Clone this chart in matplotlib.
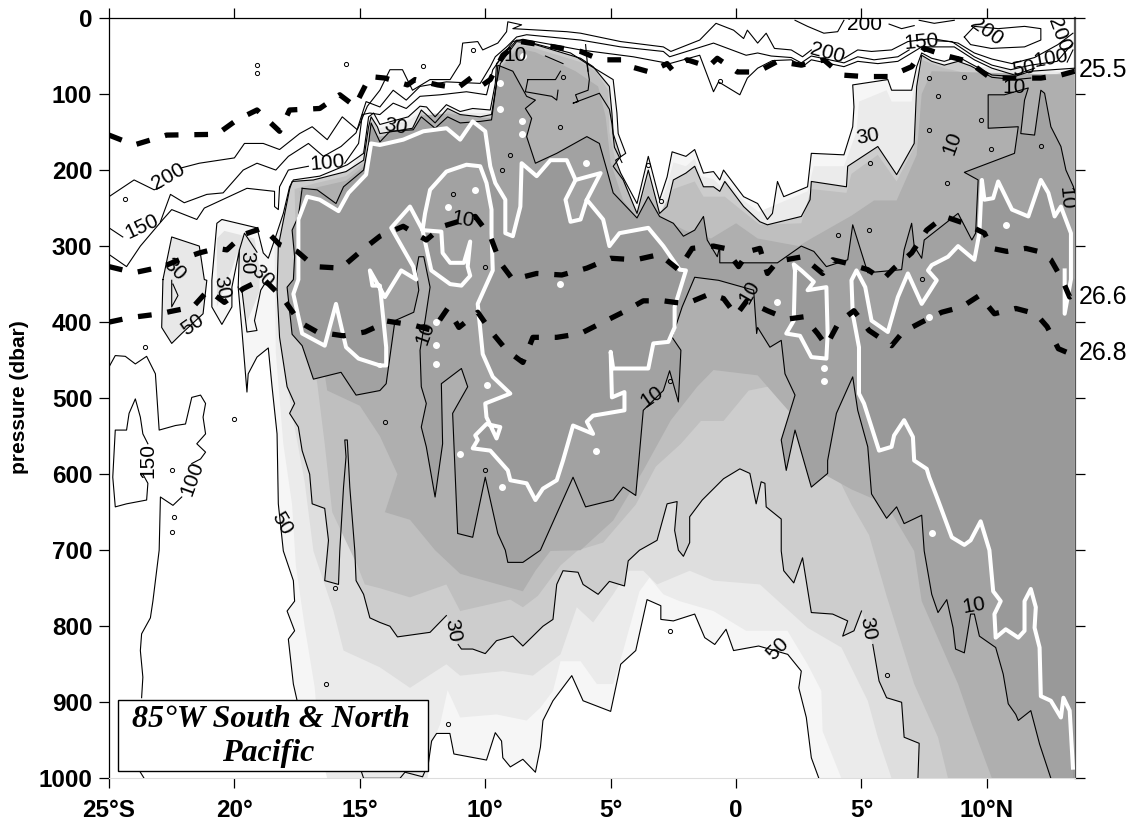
import numpy as np
import matplotlib
matplotlib.use("Agg")
from matplotlib import pyplot as plt
from matplotlib.patches import Rectangle

NAN = (np.nan, np.nan)

line_200 = [(-25, 235), (-24, 213), (-23.2, 226), (-22.9, 222), NAN, (-22.1, 197), (-21.4, 191), (-20, 184), (-19.6, 165), (-18.85, 165),
            (-18.2, 173), (-17.4, 152), (-16.9, 143), (-16.3, 160), (-15.7, 130), (-15.1, 147), (-14.7, 116), (-14.2, 95),
            (-13.8, 68), (-13.3, 68), (-12.9, 95), (-12.2, 81), (-11.4, 81), (-11, 60), (-10.9, 33), (-10.3, 31), (-10.1, 42),
            (-9.5, 33), (-9.15, 18), (-9.1, 5), (-8.55, 9), (-8.9, 14), (-6.75, 18), (-6.2, 20), (-4.6, 31), (-2.9, 38),
            (-2.6, 44), (-1.45, 29), (-0.8, 7), (-0.1, 16), (0.3, 27), (0.45, 16), (0.86, 33), (1.2, 20), (1.53, 40), (2.2, 42),
            (2.65, 51), (3, 42), NAN, (4.3, 53), (4.85, 42), (5.4, 44), (6.2, 42), (6.85, 31), (7.8, 27), (8.85, 33), (9.5, 46),
            (10.2, 54), (11, 60), (11.9, 52), (12.83, 35), (13.43, 20)]
line_150 = [(-25, 276), (-24.45, 288), NAN, (-22.95, 268), (-22.55, 232), (-22, 243), (-21.1, 232), (-20.45, 230), (-19.65, 200), (-19.1, 191),
            (-18.35, 200), (-17.85, 182), (-17.05, 165), (-16.45, 182), (-15.75, 169), (-15.15, 151), (-14.75, 110), (-14.2, 117),
            (-13.67, 95), (-13.15, 108), (-12.6, 90), (-11.55, 84), (-10.2, 86), (-9.8, 64), (-9.6, 51), (-9.15, 38), (-8.75, 25),
            (-8.35, 22), (-6.2, 29), (-4.6, 38), (-2.9, 44), (-2.65, 51), (-0.9, 33), (0.4, 49), (0.86, 46), (1.4, 50), (2.2, 52),
            (2.6, 59), (3, 50), (4.3, 59), (4.85, 51), (5.5, 55), (6.45, 51), (6.9, 42), NAN, (8.0, 30), (8.6, 31), (9.5, 51), (10.2, 62),
            (10.95, 68), (11.75, 62), (12.8, 57), (13.43, 33)]
line_100 = [(-25, 311), (-24.3, 327), (-23.75, 300), (-22.85, 265), (-22.5, 252), (-21.5, 265), (-21.2, 250), (-19.5, 224), (-18.4, 228),
            (-18.4, 248), (-18.25, 252), (-18.2, 222), (-17.85, 200), (-17.05, 195), NAN, (-15.6, 191), (-15.05, 165), (-14.9, 127),
            (-14.6, 125), (-14.2, 127), (-13.67, 112), (-13.15, 119), (-12.6, 103), (-11.8, 101), (-10.75, 97), (-9.95, 101), (-9.7, 68),
            (-8.9, 31), (-8.5, 28), (-6.2, 42), (-4.1, 51), (-2.65, 60), (-1.45, 49), (-0.9, 97), (-0.7, 84), (0.15, 101), (0.45, 79),
            (0.86, 66), (1.45, 56), (2.2, 55), (2.65, 64), (3, 55), (4.3, 64), (4.85, 57), (5.65, 60), (6.45, 57), (7.4, 38), (8.7, 38),
            (9.5, 55), (10.2, 66), (11.1, 75), (11.9, 66), NAN, (13.2, 58), (13.43, 42)]
low_100 = [(-25, 459), (-24.75, 444), (-24.35, 445), (-23.95, 455), (-23.5, 445), (-23.15, 468), (-23, 542), (-22.35, 536), (-21.95, 534),
           (-21.7, 499), (-21.35, 496), (-21.15, 507), (-21.25, 525), (-21.15, 547), (-21.5, 560), (-21.15, 571), (-21.35, 580), (-21.7, 586),
           NAN, (-22.1, 630), (-22.45, 641), (-22.95, 630), (-23, 700), (-23.25, 767), (-23.35, 789), (-23.7, 810), (-23.75, 832),
           (-23.65, 867), (-23.7, 894), NAN, (-23.75, 992), (-23.6, 1000)]
low_150 = [(-23.65, 600), (-23.45, 612), (-23.5, 634), (-24.3, 639), (-24.75, 643), (-24.85, 604), (-24.75, 542), (-24.3, 542), (-24.2, 520),
           (-23.95, 501), (-23.75, 525), (-23.65, 547), (-23.45, 560)]
top_loop_a = [(9.1, 25), (9.5, 11), (10.45, 14), (11.5, 11), (12.15, 14), (12.15, 29), (11.5, 38), (10.17, 40), (9.35, 35), (9.1, 25)]
top_loop_b = [(2.35, 3), (2.85, 11), (3.5, 20), (4.05, 18), (4.3, 3)]
top_loop_c = [(6.1, 8), (6.6, 14), (7.1, 10), NAN, (7.3, 3), (7.9, 7), (8.7, 3)]

top_50 = [(-19.85, 354), (-19.8, 305), (-20.1, 354), (-20.1, 380), (-20.5, 403), (-20.9, 380), (-20.9, 345), (-20.7, 270), (-20.5, 265),
          (-19.1, 276), (-18.85, 309), (-18.65, 316), (-18.4, 292), (-18.05, 257), (-17.8, 222), (-17.65, 213), (-16.6, 208), (-15.5, 193),
          (-14.85, 178), (-14.65, 130), (-14.45, 125), (-14.2, 140), (-13.07, 130), (-12.6, 116), (-12.34, 117), (-12, 130), (-11.55, 114),
          (-11, 123), (-10.5, 119), (-9.8, 121), (-9.6, 86), (-9.55, 60), (-8.75, 29), (-8.35, 31), (-6.6, 46), (-5.95, 60), (-4.9, 81),
          (-4.75, 125), (-4.7, 152), (-4.4, 178), (-4.8, 187), (-4.6, 204), (-3.95, 244), (-3.5, 182), (-3.05, 239), (-2.75, 209),
          (-2.55, 176), (-2, 182), (-1.65, 173), (-1.3, 204), (-0.9, 202), (-0.65, 213), (-0.5, 200), (0.3, 235), (0.86, 244), (1.25, 265),
          (1.45, 257), (1.65, 215), (1.9, 235), (2.85, 222), (3, 178), (4.3, 180), (4.65, 143), (4.7, 117), (4.65, 88), (6.05, 81),
          (6.2, 95), (7, 95), (7.2, 64), (7.4, 46), (7.8, 53), (8.3, 57), (8.85, 51), (9.35, 60), (10.2, 75), (11.1, 77), (11.75, 70),
          (13.5, 66)]
bottom_50 = [(-19.85, 354), (-19.7, 411), (-19.5, 492), (-19.45, 468), (-19.1, 446), (-18.65, 434), (-18.5, 485), (-18.3, 547), (-18.25, 639),
             (-18.05, 701), (-17.65, 740), (-17.6, 767), (-17.9, 780), (-17.6, 806), (-17.85, 817), (-17.65, 876), (-17.5, 898), (-15, 985),
             (-14.85, 1000), (-13.4, 1000), (-13.2, 992), (-12.5, 998), (-12.27, 981), (-12.14, 951), (-11.94, 941), (-11.41, 941),
             (-11.25, 968), (-9.95, 976), (-9.6, 940), (-9.35, 951), (-9.3, 973), (-9, 985), (-8.5, 975), (-8, 992), (-7.8, 959), (-7.7, 924),
             (-7.3, 898), (-6.55, 865), (-6.1, 898), (-5, 912), (-4.6, 850), (-4, 832), (-3.55, 765), (-3, 773), (-3, 791), (-2.5, 793),
             (-1.65, 784), (-1.25, 815), (-0.85, 824), (-0.4, 804), (-0.1, 832), (0.9, 826), (2.06, 837), (2.6, 859), (2.5, 881), (2.8, 920),
             (3, 973), (3.3, 1000), (13.5, 1000)]
lobe_50 = [(-22.85, 344), (-22.9, 407), (-22.5, 428), (-22.1, 415), (-21.25, 389), (-21.1, 345), (-21.2, 344), (-21.4, 300), (-22.5, 288), (-22.85, 344)]
lobe_mid = [(-20.7, 290), (-20.4, 280), (-19.2, 290), (-19, 330), (-19, 360), (-19.5, 400), (-19.7, 360), (-19.9, 310), (-20.1, 330), (-20.7, 380)]

top_42 = [(-18.35, 440), (-18.4, 300), (-17.7, 220), (-16.6, 212), (-15.4, 200), (-14.8, 170), (-14.6, 135), (-14.2, 145), (-13.07, 135), (-12.6, 125),
          (-9.8, 125), (-9.55, 90), (-9.5, 60), (-8.7, 34), (-8.3, 35), (-6.6, 52), (-5.95, 66), (-5.1, 85), (-5, 125), (-4.95, 150), (-4.65, 178),
          (-5, 187), (-4.75, 210), (-3.95, 252), (-3.5, 200), (-3.05, 248), (-2.7, 215), (-2.5, 190), (-2, 195), (-1.65, 185), (-1.4, 208), (-0.9, 212),
          (-0.6, 222), (-0.5, 210), (0.3, 240), (0.9, 255), (2.85, 228), (3.1, 195), (4.3, 195), (4.8, 150), (4.9, 110), (6, 95), (6.2, 110), (7, 110),
          (7.2, 70), (7.5, 60), (13.5, 72)]
bottom_42 = [(-18.35, 440), (-18.05, 560), (-17.7, 640), (-17.55, 720), (-17.2, 800), (-16.8, 880), (-16.6, 960), (-16.3, 1000), (-12.3, 1000), (-12.2, 960),
             (-11.8, 929), (-11.5, 884), (-11, 920), (-9.55, 916), (-8.35, 924), (-7.8, 907), (-7.3, 885), (-7, 846), (-6.2, 846), (-5.55, 876), (-4.9, 876),
             (-4.5, 832), (-3.85, 754), (-3.45, 736), (-2.9, 758), (-2.25, 767), (-0.9, 780), (0.4, 806), (2.05, 806), (2.85, 850), (3.4, 885), (3.45, 938),
             (4.2, 1000), (13.5, 1000)]
bottom_36 = [(-18.1, 440), (-17.7, 520), (-17.2, 610), (-16.85, 701), (-16.05, 780), (-15.65, 832), (-14.2, 854), (-13, 881), (-11.55, 850), (-11, 865),
             (-9.3, 859), (-8.1, 865), (-7, 837), (-6.35, 775), (-5.7, 795), (-4.9, 758), (-4.3, 727), (-3.7, 727), (-3.15, 745), (-1.85, 727), (-0.9, 740),
             (0.95, 745), (2.85, 802), (4.2, 828), (5.25, 898), (5.65, 946), (6.2, 1000), (13.5, 1000)]

top_30 = [(-18.3, 358), (-18.25, 300), (-17.8, 225), (-17.7, 215), (-16.85, 213), (-15.55, 202), (-14.85, 187), (-14.65, 143), (-14.55, 130), (-14.3, 143),
          (-14.2, 152), (-12.9, 145), (-12.55, 121), (-12.35, 127), (-12, 138), (-11.5, 119), (-11, 127), (-10.2, 130), (-9.75, 127), (-9.55, 86), (-9.4, 60),
          (-8.75, 31), (-8.2, 33), (-6.2, 53), (-5.7, 64), (-5.05, 90), (-4.95, 125), (-4.9, 152), (-4.6, 182), (-4.9, 195), (-4.5, 213), (-3.95, 257),
          (-3.5, 200), (-3.05, 257), (-2.75, 248), (-2.5, 213), (-2, 204), (-1.65, 195), (-1.3, 222), (-0.9, 222), (-0.65, 228), (-0.45, 215), (0.3, 248),
          (0.95, 268), (1.25, 272), (2.6, 261), (2.95, 239), (3, 215), (4.4, 222), (4.45, 195), (5.65, 169), (6.4, 206), (7.1, 165), (7.2, 90), (7.4, 49),
          (7.8, 57), (8.3, 62), (8.85, 57), (9.35, 63), (10.2, 78), (11.1, 81), (11.75, 79), (13.5, 70)]
bottom_30 = [(-18.3, 358), (-18.2, 420), (-17.9, 485), (-17.6, 507), (-17.8, 520), (-17.45, 538), (-17.3, 569), (-17, 600), (-16.9, 639), (-16.4, 645),
             (-16.25, 687), (-16.4, 740), (-15.85, 745), (-15.8, 701), (-15.65, 617), (-15.55, 577), (-15.6, 555), (-15.5, 555), (-15.4, 617), (-15.2, 701),
             (-15.15, 740), (-14.85, 758), (-14.6, 789), (-14.2, 795), (-13.8, 800), (-13.5, 814), (-12.2, 808), (-11.55, 786), NAN, (-11.08, 824), (-10.95, 830),
             (-10.5, 830), (-10, 836), (-9.55, 819), (-8.9, 813), (-8.5, 826), (-7.7, 800), (-7.3, 791), (-7.15, 745), (-6.9, 727), (-6.3, 729), (-6.1, 745),
             (-5.5, 758), (-5.05, 741), (-4.45, 747), (-4.3, 714), (-3.85, 700), (-3.15, 687), (-2.75, 639), (-2.35, 636), (-2.45, 674), (-2.3, 700), (-2.1, 708),
             (-1.85, 690), (-1.85, 656), (-1.35, 634), (-0.5, 606), (0.15, 593), (0.55, 599), (0.8, 639), (1, 610), (1.15, 612), (1.2, 643), (1.8, 659), (1.8, 701),
             (1.9, 727), (2.3, 743), (2.65, 710), (3, 782), (3.85, 784), (4.45, 793), (4.25, 813), (4.7, 806), (5, 780), NAN, (5.45, 824), (5.7, 872), (6, 894),
             (6.6, 900), (6.7, 946), (7.3, 954), (7.25, 1000), (13.5, 1000)]

top_22 = [(-17.5, 360), (-17.6, 225), (-16.85, 218), (-15.55, 208), (-14.85, 190), (-14.6, 150), (-14.2, 156), (-12.9, 148), (-12.55, 125), (-12, 141), (-11.5, 123),
          (-10.2, 133), (-9.75, 130), (-9.5, 86), (-9.35, 62), (-8.7, 36), (-8.2, 38), (-6.2, 58), (-5.6, 70), (-5.1, 95), (-5.05, 150), (-4.8, 190), (-4.4, 218),
          (-3.95, 259), (-3.5, 210), (-3.05, 258), (-2.5, 225), (-1.65, 215), (-1.3, 235), (-0.45, 235), (0.3, 255), (0.95, 272), (2.6, 270), (3, 225), (4.4, 230),
          (4.6, 205), (5.65, 180), (6.4, 215), (7.1, 170), (7.25, 90), (7.4, 55), (8.3, 66), (10.2, 80), (13.5, 72)]
bottom_22 = [(-17.5, 360), (-16.7, 480), (-16.4, 560), (-16.1, 650), (-15.1, 720), (-14.8, 745), (-14.2, 750), (-13, 762), (-11.55, 745), (-11, 780), (-9, 765),
             (-8.5, 775), (-7.9, 760), (-7, 720), (-6.3, 700), (-5.3, 690), (-4, 640), (-3.2, 590), (-2.2, 560), (-1.4, 530), (-0.5, 530), (0.5, 490), (2, 480),
             (3, 560), (4, 600), (4.6, 640), (5.3, 680), (6, 760), (7.1, 876), (8.05, 946), (8.45, 1000), (13.5, 1000)]
top_15 = [(-16.9, 360), (-17.4, 228), (-15.55, 214), (-14.85, 195), (-14.6, 158), (-12.9, 150), (-12.55, 128), (-11.5, 126), (-9.75, 132), (-9.5, 70), (-8.7, 40),
          (-8, 45), (-6.4, 70), (-5.5, 90), (-5.2, 130), (-5, 190), (-4.5, 240), (-3.95, 262), (-3.5, 240), (-3.05, 262), (-2, 280), (-1, 290), (0, 270), (0.86, 290),
          (2.5, 300), (3, 290), (4.6, 260), (5.5, 240), (6.4, 240), (7.2, 180), (7.4, 100), (7.8, 70), (13.5, 75)]
bottom_15 = [(-16.9, 360), (-16.3, 490), (-15, 510), (-14.2, 550), (-13.5, 600), (-14, 650), (-13, 660), (-12, 700), (-11, 731), (-8.5, 754), (-8, 727), (-7.4, 701),
             (-6.2, 700), (-4.9, 661), (-3.7, 595), (-2.6, 529), (-1.55, 485), (-0.9, 463), (0.86, 470), (1.65, 500), (2.45, 530), (3.5, 600), (4.6, 620), (6, 640),
             (7.1, 701), (7.4, 767), (8.85, 876), (9.4, 929), (10.2, 1000), (13.5, 1000)]

outline_10 = [(-17.3, 224), (-16.7, 226), (-15.95, 244), (-15.65, 222), (-14.85, 200), (-14.65, 165), (-14.55, 138), (-14.2, 163), (-13.8, 149), (-12.87, 147),
              (-12.55, 130), (-12, 145), (-11.5, 130), (-11, 138), (-10.2, 136), (-9.75, 134), (-9.55, 86), (-9.5, 62), (-8.9, 70), (-8.35, 103), (-8, 108), (-8.4, 119),
              (-8.15, 132), (-8.35, 156), (-8, 191), (-7.15, 178), (-5.95, 156), (-5.45, 165), (-5.15, 200), (-4.9, 230), (-3.95, 263), (-3.5, 235), (-3.05, 261),
              (-2.5, 270), (-2.1, 287), (-1.65, 279), (-1.3, 261), (-1.15, 292), (-0.75, 314), (-0.65, 300), (-0.65, 322), (1.2, 322), (1.65, 322), (2.6, 300),
              (3.1, 307), (3.6, 327), (4.45, 318), (4.65, 272), (5.25, 335), (6.6, 331), (6.7, 305), (7, 270), (7.1, 300), (7.4, 316), (7.5, 292), (8.85, 257),
              (9.4, 292), (9.55, 283), (9.65, 213), (9.1, 203), (11.1, 178), (11.25, 143), (10.05, 145), (10.05, 101), (10.7, 101), (11.65, 92), (11.5, 108),
              (11.35, 152), (11.9, 154), (12.15, 95), (12.3, 99), (12.55, 143), (12.95, 169), (13.15, 200), (13.45, 222), (13.5, 230), (13.5, 1000), (12.55, 1000),
              (12.1, 955), (11.75, 911), (11.25, 924), (11.15, 916), (10.85, 902), (10.65, 863), (10.35, 828), (9.7, 813), (9.5, 784), (9.35, 784), (9.1, 835),
              (8.75, 830), (8.65, 802), (8.4, 765), (8.05, 782), (7.8, 758), (7.5, 701), (7.4, 654), (6.7, 665), (6.4, 643), (6, 658), (5.4, 626), (5.25, 564),
              (4.85, 516), (4.65, 472), (4, 520), (3.65, 582), (3.65, 599), (3, 617), (2.35, 542), (2, 595), (1.8, 555), (2.35, 496), (1.95, 468), (1.8, 424),
              (1.35, 433), (0.86, 407), (0.82, 415), (0.7, 358), (-0.7, 345), (-1.65, 341), (-2.15, 380), (-2.55, 420), (-2.2, 437), (-2.3, 505), (-2.65, 464),
              (-2.9, 490), (-3.7, 516), (-4, 628), (-4.5, 617), (-4.9, 634), (-6, 643), (-6.5, 604), (-7.15, 652), (-7.8, 700), (-8.5, 716), (-9.1, 716), (-9.2, 700),
              (-9.5, 678), (-10, 604), (-10.5, 683), (-11.1, 678), (-11.3, 520), (-10.7, 485), (-10.95, 461), (-11.75, 481), (-11.7, 560), (-12, 630), (-12.35, 564),
              (-12.55, 538), (-12.35, 507), (-12.55, 485), (-12.6, 437), (-12.4, 398), (-12.2, 354), (-12.45, 314), (-12.65, 314), (-12.75, 332), (-12.65, 358),
              (-12.85, 387), (-13.6, 398), (-13.95, 481), (-14.2, 490), (-15.15, 496), (-15.75, 466), (-16.85, 475), (-17.3, 431), (-17.7, 416), (-17.9, 354),
              (-17.65, 344), (-17.6, 314), (-17.7, 279), (-17.45, 261), (-17.3, 224)]

white_main = [(-14.2, 457), (-15.05, 448), (-15.55, 433), (-15.95, 376), (-16.4, 431), (-17.3, 415), (-17.65, 363), (-17.45, 344), (-17.45, 265), (-17.1, 235),
              (-16.6, 239), (-15.85, 254), (-15.45, 230), (-14.75, 206), (-14.55, 165), (-14.2, 167), (-13.27, 160), (-12.47, 149), (-11.54, 145), (-11, 160), (-10.5, 136),
              (-10, 149), (-9.8, 195), (-9.6, 217), (-9.2, 239), (-9.2, 283), (-8.9, 287), (-8.6, 248), (-8.55, 191), (-7.95, 208), (-7.4, 187), (-6.75, 187), (-6.4, 213),
              (-6.8, 239), (-6.6, 268), (-6.2, 265), (-5.95, 239), (-5.3, 265), (-5.05, 300), (-4.65, 283), (-3.5, 276), (-2.9, 300), (-2.25, 331), (-2, 332), (-2.45, 380),
              (-2.45, 407), (-2.7, 426), (-3.3, 428), (-3.5, 461), (-4.9, 461), (-5, 439), (-4.95, 499), (-4.45, 492), (-4.45, 516), (-5.7, 523), (-5.95, 531), (-5.7, 547),
              (-6.5, 536), (-6.9, 582), (-7.15, 608), (-7.7, 619), (-8, 634), (-8.35, 612), (-9, 608), (-9.1, 595), (-9.8, 569), (-10.5, 566), (-10.3, 555), (-10.4, 549),
              (-9.95, 534), (-9.4, 538), (-9.55, 553), (-9.95, 525), (-10, 507), (-9, 494), (-9.7, 472), (-10.1, 442), (-10.3, 376), (-9.7, 332), (-9.75, 283), (-9.75, 252),
              (-9.95, 217), (-10.2, 195), (-10.75, 193), (-11.55, 202), (-12.2, 226), (-12.4, 257), (-12.5, 279), (-11.75, 281), (-11.7, 309), (-11.4, 322), (-10.85, 322),
              (-10.6, 294), (-10.7, 327), (-10.6, 339), (-10.95, 352), (-11.4, 350), (-12.15, 332), (-12.5, 279), (-13, 248), (-13.75, 276), (-12.87, 327), (-12.75, 344),
              (-13.35, 332), (-14, 367), (-14.6, 332), (-14.5, 352), (-14.2, 352), (-13.95, 433), (-13.95, 457), (-14.2, 457)]
white_tri = [(-6.4, 213), (-5.4, 204), (-5.95, 239)]
white_right = [(13.43, 986), (13.3, 911), (13.05, 894), (12.95, 920), (12.55, 898), (12.15, 892), (12.1, 828), (11.9, 802), (11.95, 775), (11.75, 751), (11.5, 767),
               (11.5, 806), (11.25, 815), (10.75, 804), (10.35, 815), (10.3, 784), (10.55, 767), (10.25, 754), (10.1, 700), (9.75, 662), (9.35, 687), (9.1, 693), (8.6, 683),
               (8.05, 634), (7.7, 604), (7.6, 593), (7.1, 582), (7.05, 551), (6.7, 529), (6.3, 549), (6.2, 564), (5.7, 569), (5.1, 507), (4.9, 494), (4.9, 433), (4.65, 389),
               (4.6, 345), (4.8, 332), (5.15, 354), (5.4, 398), (6.05, 413), (6.45, 367), (6.85, 336), (7.4, 376), (8, 345), (7.65, 332), (7.8, 325), (8.45, 314), (8.85, 300),
               (9.5, 318), (9.7, 283), (9.8, 213), (9.9, 239), (10.25, 237), (10.45, 215), (11, 252), (11.65, 261), (12.15, 213), (12.45, 230), (12.7, 261), (12.95, 248),
               (13.35, 283), (13.35, 344), (13.1, 389), (13.1, 332)]
white_3n = [(2.35, 332), (2.3, 398), (2, 415), (2.55, 418), (3, 446), (3.6, 448), (3.65, 415), (3.6, 354), (2.85, 358), (3.1, 347), (2.6, 332), (2.3, 324), (2.35, 332)]
white_spots = [(-9.4, 86), (-8.5, 50), (-8.55, 136), (-8.55, 152), (-9.4, 120), (-6, 191), (-9.95, 483), (-7, 350), (-5.6, 569), (-9.35, 617), (-11, 573),
               (-11.95, 400), (-11.95, 430), (-11.95, 455), (-11.5, 248), (-10.4, 226), (1.65, 374), (3.5, 460), (3.5, 478), (7.7, 393), (7.8, 678), (10.75, 272)]

rho_255 = [(-25, 154), (-24, 167), (-22.7, 154), (-20.7, 153), (-19.9, 134), (-19.1, 121), (-18.2, 149), (-17.8, 121), (-16.6, 119), (-15.8, 101), (-15.2, 116), (-14.6, 77),
           (-14, 79), (-13.1, 88), (-12.8, 81), (-11.9, 88), (-11.1, 92), (-10.5, 77), (-10.1, 88), (-9.8, 81), (-9.3, 49), (-8.6, 31), (-7.25, 38), (-6.2, 44), (-5.4, 55),
           (-4.5, 55), (-4.2, 64), (-3.45, 71), (-2.75, 60), (-2.55, 68), (-1.95, 55), (-1.1, 64), (-0.75, 53), (0.05, 71), (0.85, 71), (1.65, 57), (2.6, 62), (3.5, 55),
           (4.2, 75), (5.1, 77), (6.1, 77), (7, 64), (7.5, 40), (8.3, 49), (9.25, 57), (10.15, 79), (11.1, 79), (12.15, 79), (12.95, 75), (13.5, 70)]
rho_266 = [(-25, 327), (-24, 335), (-22.85, 327), (-22.2, 318), (-21.4, 309), (-20.7, 303), (-20.3, 305), (-19.65, 285), (-18.85, 276), (-18.2, 298), (-17.5, 307), (-16.8, 327),
           (-15.75, 329), (-14.9, 305), (-14.2, 287), (-13.27, 274), (-12.35, 292), (-11.7, 274), (-10.4, 261), (-9.8, 287), (-9.4, 322), (-8.9, 344), (-7.95, 336), (-6.95, 338),
           (-5.95, 329), (-5, 316), (-4, 318), (-3.05, 311), (-2.3, 331), (-1.75, 303), (-0.9, 300), (-0.45, 303), (0.1, 327), (0.5, 307), (0.95, 303), (1.25, 336), (1.65, 320),
           (2.65, 314), (3.45, 336), (3.85, 318), (4.35, 322), (5.25, 331), (5.85, 344), (6.3, 329), (7, 309), (7.6, 279), (8.3, 261), (9.1, 270), (9.9, 283), (10.2, 303),
           (10.8, 307), (11.55, 303), (12.05, 307), (12.55, 318), (13, 344), (13.3, 367), (13.5, 363)]
rho_268 = [(-25, 400), (-24.15, 394), (-22.95, 389), (-22.55, 386), (-21.65, 380), (-21.05, 358), (-20.4, 374), (-19.65, 356), (-18.85, 343), (-18.05, 369), (-17.4, 400),
           (-16.7, 413), (-15.65, 418), (-14.8, 413), (-14.2, 404), (-14.05, 398), (-12.85, 404), (-12.1, 411), (-11.5, 382), (-11.05, 407), (-10.3, 387), (-9.75, 413), (-9.15, 437),
           (-8.5, 453), (-8.1, 420), (-7.15, 420), (-6.2, 415), (-5.3, 400), (-4.45, 386), (-3.7, 372), (-2.9, 372), (-2, 376), (-1.05, 363), (-0.5, 369), (0, 391), (0.43, 372),
           (1.25, 385), (2.05, 396), (2.7, 393), (3.25, 415), (3.6, 431), (4.1, 400), (4.7, 385), (5.3, 411), (6.2, 431), (6.65, 413), (7.4, 400), (8.2, 387), (9, 380), (9.7, 365),
           (10.3, 389), (11.15, 382), (11.95, 389), (12.4, 406), (12.85, 435), (13.35, 442), (13.5, 435)]

inner_lines = [
    [(-22.5, 345), (-22.5, 380), (-22.25, 365), (-22.45, 350)],
    [(-19.7, 358), (-19.5, 413), (-19.1, 411), (-19.2, 398), (-18.95, 358), (-18.8, 350)],
    [(-19.8, 305), (-19.6, 283), (-19.1, 308)],
    [(-5.95, 60), (-5.85, 81), (-5.9, 95), (-6.4, 101), (-6.3, 110), (-6.5, 112), (-5.45, 99), (-5.05, 120), (-4.95, 139), (-4.85, 170), (-4.55, 190)],
    [(-8.3, 81), (-7.2, 81), (-7.0, 70), NAN, (-8.3, 81), (-8.4, 97), (-7.35, 103), (-7.15, 108), (-7.1, 95)],
    [(-6.0, 35), (-5.9, 70), NAN, (-7.6, 50), (-6.9, 60)],
]

blob_lat = [-19.1, -19.1, -15.55, -24.35, -12.5, -10.5, -9, -9.35, -11.3, -10, -7, -6.9, -3.5, -3, -0.65, 7.7, 9.1, 8.05, 10.15, 12.15, 7.7, 5.35, 8.4, 4.05,
            5.3, 9.75, 7.4, -14, -10, -2.65, -20, -23.55, -16.35, -16, -11.5, -2.65, 6, -22.5, -22.5, -22.4]
blob_p = [62, 72, 60, 238, 63, 42, 180, 200, 232, 327, 144, 77, 193, 241, 83, 79, 77, 103, 172, 168, 147, 191, 217, 285,
          279, 134, 343, 531, 595, 477, 527, 433, 876, 750, 929, 806, 864, 594, 676, 656]

contour_labels = ["200", "150", "100", "30", "30", "30", "30", "30", "50", "150", "100", "50", "30", "50", "30", "10", "10", "10", "10",
                  "10", "30", "10", "50", "100", "150", "200", "200", "200", "200", "10", "10", "10"]
label_lat = [-22.65, -23.7, -16.3, -13.55, -22.4, -20.5, -19.5, -18.9, -21.65, -23.45, -21.7, -18.1, -11.3, 1.65, 5.25, 9.5, -3.35, -12.4, -10.9,
             8.6, 5.25, 11.1, 11.45, 12.55, 7.4, 5.1, 10, 12.9, 3.65, 13.15, -8.8, 0.55]
label_p = [208, 274, 191, 143, 331, 354, 322, 340, 404, 582, 606, 665, 806, 830, 803, 773, 498, 415, 265,
           165, 156, 92, 66, 53, 31, 9, 18, 22, 46, 237, 49, 360]
label_rot = [30, 25, 5, -10, -45, -80, -90, -45, 35, 90, 70, -60, -80, 45, -80, 10, 35, 70, -10,
             70, 10, 0, 10, 10, 5, 0, -35, -70, -15, -85, 0, 60]

lat_ticks = [-25, -20, -15, -10, -5, 0, 5, 10]
lat_labels = ["25°S", "20°", "15°", "10°", "5°", "0", "5°", "10°N"]
p_ticks = list(range(0, 1001, 100))
rho_names = ["25.5", "26.6", "26.8"]
rho_p = [68, 367, 441]


def xy(pts):
    return np.array(pts, dtype=float).T


def band(top, bottom, color, z):
    x = xy(top + [q for q in bottom[::-1] if not np.isnan(q[0])])
    ax.fill(x[0], x[1], color=color, lw=0, zorder=z)


def line(pts, color="k", lw=0.8, z=6, **kw):
    x = xy(pts)
    ax.plot(x[0], x[1], color=color, lw=lw, zorder=z, **kw)


plt.rcParams["font.family"] = ["Liberation Sans", "DejaVu Sans"]
fig = plt.figure(figsize=(11.38, 8.31), dpi=100)
ax = fig.add_axes([109 / 1138, 1 - 778.3 / 831, 965.7 / 1138, 760.3 / 831])

band(top_50, bottom_50, "#f6f6f6", 1)
x = xy(lobe_50)
ax.fill(x[0], x[1], color="#e8e8e8", lw=0, zorder=1)
x = xy(lobe_mid)
ax.fill(x[0], x[1], color="#e2e2e2", lw=0, zorder=1.5)
band(top_42, bottom_42, "#ebebeb", 2)
band(top_30, bottom_36, "#dedede", 3)
band(top_30, bottom_30, "#cdcdcd", 3.1)
band(top_22, bottom_22, "#bfbfbf", 3.2)
band(top_15, bottom_15, "#afafaf", 3.3)
x = xy(outline_10)
ax.fill(x[0], x[1], color="#a2a2a2", lw=0, zorder=3.4)
x = xy(white_main)
ax.fill(x[0], x[1], color="#999999", lw=0, zorder=3.5)
x = xy(white_right + [(13.5, 344), (13.5, 1000), (13.43, 1000)])
ax.fill(x[0], x[1], color="#999999", lw=0, zorder=3.5)
x = xy(white_3n)
ax.fill(x[0], x[1], color="#999999", lw=0, zorder=3.5)

i_edge = outline_10.index((13.5, 230))
j_edge = outline_10.index((13.5, 1000))
for pts in [line_200, line_150, line_100, low_100, low_150, top_loop_a, top_loop_b, top_loop_c, top_50, bottom_50[:-1], lobe_50,
            top_30[:-1], bottom_30[:-1], outline_10[:i_edge + 1], outline_10[j_edge + 1:]] + inner_lines:
    line(pts)
ax.plot(blob_lat, blob_p, "o", ms=3, mfc="none", mec="k", mew=0.7, zorder=6)

for pts in [white_main, white_right, white_3n, white_tri]:
    line(pts, color="white", lw=2.9, z=7, solid_joinstyle="round")
x = xy(white_spots)
ax.plot(x[0], x[1], "o", ms=4, color="white", zorder=7)

for pts in [rho_255, rho_266, rho_268]:
    x = xy(pts)
    ax.plot(x[0], x[1], color="k", lw=3.8, dashes=(2.6, 3.0), dash_capstyle="butt", zorder=8)

for s, la, pr, r in zip(contour_labels, label_lat, label_p, label_rot):
    ax.text(la, pr, s, rotation=r, ha="center", va="center", fontsize=15, color="k", zorder=9, clip_on=True)

for s, pr in zip(rho_names, rho_p):
    ax.text(13.68, pr, s, ha="left", va="center", fontsize=18, color="k", clip_on=False)

ax.add_patch(Rectangle((-24.65, 897.4), 12.35, 93.4, fc="white", ec="k", lw=1, zorder=10))
ax.text(-18.55, 923, "85°W South & North", family="Liberation Serif", style="italic", weight="bold",
        fontsize=23, ha="center", va="center", zorder=11)
ax.text(-18.65, 968, "Pacific", family="Liberation Serif", style="italic", weight="bold",
        fontsize=23, ha="center", va="center", zorder=11)

ax.set_xlim(-25, 13.5)
ax.set_ylim(1000, 0)
ax.set_xticks(lat_ticks)
ax.set_xticklabels(lat_labels, fontsize=17.5, fontweight="bold")
ax.set_yticks(p_ticks)
ax.set_yticklabels(p_ticks, fontsize=17.5, fontweight="bold")
ax.tick_params(axis="both", which="major", direction="out", length=7, width=0.9, top=True, right=True)
ax.tick_params(axis="x", pad=8)
ax.tick_params(axis="y", pad=5)
ax.set_ylabel("pressure (dbar)", fontsize=15, fontweight="bold")
ax.yaxis.set_label_coords(-0.0828, 0.501)
ax.spines["bottom"].set_color("#dddddd")
ax.spines["right"].set_color("#555555")
ax.spines["right"].set_linewidth(1.6)
ax.spines["left"].set_linewidth(0.9)
ax.spines["top"].set_linewidth(0.9)

fig.savefig("out.png", dpi=100)
